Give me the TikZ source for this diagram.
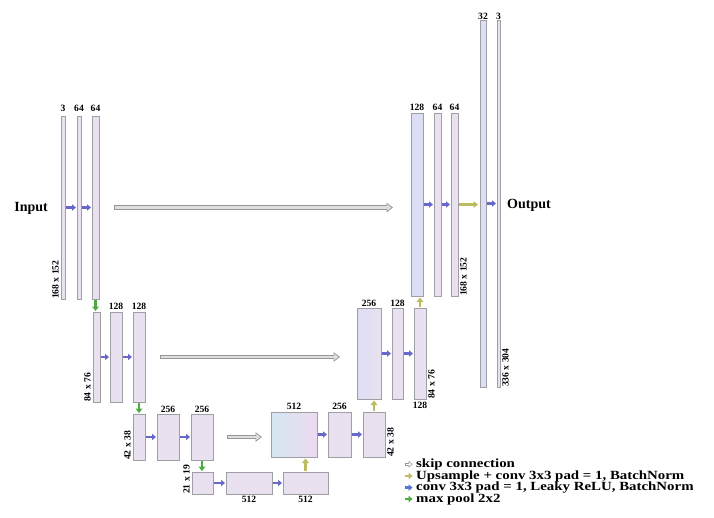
\documentclass[tikz,border=0pt]{standalone}
\usepackage{fontspec}
\setmainfont{Liberation Serif}
\newfontfamily\legfont[FakeStretch=1.19]{Liberation Serif}
\usetikzlibrary{arrows.meta}
\definecolor{convblue}{RGB}{104,104,204}
\definecolor{poolgreen}{RGB}{76,170,64}
\definecolor{upolive}{RGB}{190,186,96}
\definecolor{skipfill}{RGB}{222,222,222}
\definecolor{skipedge}{RGB}{150,150,150}
\definecolor{barfill}{RGB}{233,225,239}
\definecolor{baredge}{RGB}{158,158,163}
\definecolor{barblue}{RGB}{220,222,246}
\definecolor{barcyan}{RGB}{212,230,242}
\definecolor{barpink}{RGB}{236,218,240}
\definecolor{legblue}{RGB}{80,120,210}
\begin{document}
\begin{tikzpicture}[x=1pt,y=-1pt,
  bar/.style={draw=baredge, fill=barfill, line width=0.7pt, inner sep=0pt, outer sep=0pt, anchor=north west, rectangle},
  num/.style={font=\fontsize{9.6}{10}\selectfont\bfseries, inner sep=0pt, anchor=base},
  dimlab/.style={font=\fontsize{9.6}{10}\selectfont\bfseries, inner sep=0pt, rotate=90},
  io/.style={font=\fontsize{14}{15}\selectfont\bfseries, inner sep=0pt},
  leg/.style={font=\legfont\fontsize{12.5}{13}\selectfont\bfseries, inner sep=0pt, anchor=base west},
  conv/.style={draw=convblue, line width=2.2pt, -{Triangle[length=4pt,width=6.5pt,line width=0pt]}, shorten <=1pt, shorten >=1pt},
  pool/.style={draw=poolgreen, line width=2.4pt, -{Triangle[length=4.5pt,width=7pt,line width=0pt]}, shorten <=1pt, shorten >=1pt},
  upc/.style={draw=upolive, line width=2.4pt, -{Triangle[length=4.5pt,width=7pt,line width=0pt]}, shorten <=1.5pt, shorten >=1.5pt},
  skipo/.style={draw=skipedge, line width=4.2pt, -{Triangle[length=6.5pt,width=9.5pt,line width=0.7pt,fill=skipfill]}},
  skipi/.style={draw=skipfill, line width=2.6pt},
]
\useasboundingbox (0,0) rectangle (714,517);

% ---- encoder level 1
\node[bar, minimum width=4pt, minimum height=183pt] (A) at (61,116) {};
\node[bar, minimum width=4pt, minimum height=183pt] (B) at (77,116) {};
\node[bar, minimum width=7pt, minimum height=183pt] (C) at (92,116) {};
% ---- level 2
\node[bar, minimum width=7pt, minimum height=90pt] (D) at (93,312) {};
\node[bar, minimum width=12pt, minimum height=90pt] (E) at (110,312) {};
\node[bar, minimum width=12pt, minimum height=90pt] (F) at (133,312) {};
% ---- level 3
\node[bar, minimum width=12pt, minimum height=46pt] (G) at (133,414) {};
\node[bar, minimum width=22pt, minimum height=46pt] (H) at (157,414) {};
\node[bar, minimum width=22pt, minimum height=46pt] (I) at (191,414) {};
% ---- level 4
\node[bar, minimum width=21pt, minimum height=22pt] (J) at (192,472) {};
\node[bar, minimum width=46pt, minimum height=22pt] (K) at (226,472) {};
\node[bar, minimum width=45pt, minimum height=22pt] (L) at (283,472) {};
% ---- decoder level 3
\node[bar, left color=barcyan, right color=barpink, minimum width=46pt, minimum height=45pt] (M) at (271,412) {};
\node[bar, minimum width=23pt, minimum height=45pt] (N) at (328,412) {};
\node[bar, minimum width=22pt, minimum height=45pt] (O) at (363,412) {};
% ---- decoder level 2
\node[bar, left color=barblue, right color=barfill, minimum width=24pt, minimum height=91pt] (P) at (357,308) {};
\node[bar, minimum width=11pt, minimum height=91pt] (Q) at (392,308) {};
\node[bar, minimum width=12pt, minimum height=91pt] (R) at (414,308) {};
% ---- decoder level 1
\node[bar, fill=barblue, minimum width=12pt, minimum height=183pt] (S) at (411,113) {};
\node[bar, minimum width=7pt, minimum height=183pt] (T) at (434,113) {};
\node[bar, minimum width=7pt, minimum height=183pt] (U) at (451,113) {};
% ---- output
\node[bar, fill=barblue, minimum width=6pt, minimum height=367pt] (V) at (480,20) {};
\node[bar, minimum width=3pt, minimum height=367pt] (W) at (497,20) {};

% ---- channel labels
\node[num] (nA) at ([yshift=5pt]A.north) {3};
\node[num] (nB) at ([yshift=5pt]B.north) {64};
\node[num] (nC) at ([yshift=5pt]C.north) {64};
\node[num] (nE) at ([yshift=3pt]E.north) {128};
\node[num] (nF) at ([yshift=3pt]F.north) {128};
\node[num] (nH) at ([yshift=2pt]H.north) {256};
\node[num] (nI) at ([yshift=2pt]I.north) {256};
\node[num] (nK) at ([yshift=-8.6pt]K.south) {512};
\node[num] (nL) at ([yshift=-8.6pt]L.south) {512};
\node[num] (nM) at ([yshift=2.5pt]M.north) {512};
\node[num] (nN) at ([yshift=2.5pt]N.north) {256};
\node[num] (nP) at ([yshift=2pt]P.north) {256};
\node[num] (nQ) at ([yshift=2pt]Q.north) {128};
\node[num] (nR) at ([yshift=-9.3pt]R.south) {128};
\node[num] (nS) at ([yshift=3pt]S.north) {128};
\node[num] (nT) at ([yshift=3pt]T.north) {64};
\node[num] (nU) at ([yshift=3pt]U.north) {64};
\node[num] (nV) at ([yshift=1pt]V.north) {32};
\node[num] (nW) at ([yshift=1pt]W.north) {3};

% ---- size labels
\node[dimlab, anchor=south west] (dA) at ([xshift=-2pt]A.south west) {168 x 152};
\node[dimlab, anchor=south west] (dD) at ([xshift=-2pt]D.south west) {84 x 76};
\node[dimlab, anchor=south west] (dG) at ([xshift=-2pt]G.south west) {42 x 38};
\node[dimlab, anchor=south west] (dJ) at ([xshift=-2pt]J.south west) {21 x 19};
\node[dimlab, anchor=north west] (dO) at ([xshift=2pt]O.south east) {42 x 38};
\node[dimlab, anchor=north west] (dR) at ([xshift=2pt]R.south east) {84 x 76};
\node[dimlab, anchor=north west] (dU) at ([xshift=2pt]U.south east) {168 x 152};
\node[dimlab, anchor=north west] (dW) at ([xshift=2pt]W.south east) {336 x 304};

% ---- input / output
\node[io, anchor=base east] (in) at ([xshift=-13pt,yshift=-4pt]A.west) {Input};
\node[io, anchor=base west] (out) at ([xshift=7pt,yshift=-4.5pt]W.east) {Output};

% ---- conv arrows
\draw[conv] (A.east) -- (B.west);
\draw[conv] (B.east) -- (C.west);
\draw[conv] (D.east) -- (E.west);
\draw[conv] (E.east) -- (F.west);
\draw[conv] (G.east) -- (H.west);
\draw[conv] (H.east) -- (I.west);
\draw[conv] (J.east) -- (K.west);
\draw[conv] (K.east) -- (L.west);
\draw[conv] (M.east) -- (N.west);
\draw[conv] (N.east) -- (O.west);
\draw[conv] (P.east) -- (Q.west);
\draw[conv] (Q.east) -- (R.west);
\draw[conv] (S.east) -- (T.west);
\draw[conv] (T.east) -- (U.west);
\draw[conv] (V.east) -- (W.west);

% ---- max pool arrows
\draw[pool] (C.south) -- (C.south |- D.north);
\draw[pool] (F.south) -- (F.south |- G.north);
\draw[pool] (I.south) -- (I.south |- J.north);

% ---- upsample arrows
\draw[upc] (L.north) -- (L.north |- M.south);
\draw[upc] (O.north) -- (O.north |- P.south);
\draw[upc] (R.north) -- (R.north |- S.south);
\draw[upc, line width=2.8pt, shorten <=1pt, shorten >=2pt] (U.east) -- (U.east -| V.west);

% ---- skip connections
\draw[skipo, shorten <=15pt, shorten >=18pt] (C.east) -- (C.east -| S.west);
\draw[skipi, shorten <=15.8pt, shorten >=23.3pt] (C.east) -- (C.east -| S.west);
\draw[skipo, shorten <=15pt, shorten >=17pt] (F.east) -- (F.east -| P.west);
\draw[skipi, shorten <=15.8pt, shorten >=22.3pt] (F.east) -- (F.east -| P.west);
\draw[skipo, shorten <=14pt, shorten >=9pt] (I.east) -- (I.east -| M.west);
\draw[skipi, shorten <=14.8pt, shorten >=14.3pt] (I.east) -- (I.east -| M.west);

% ---- legend
\node[leg] (lg1) at (416,467.3) {skip connection};
\node[leg] (lg2) at (416,479.0) {Upsample + conv 3x3 pad = 1, BatchNorm};
\node[leg] (lg3) at (416,490.6) {conv 3x3 pad = 1, Leaky ReLU, BatchNorm};
\node[leg] (lg4) at (416,502.0) {max pool 2x2};
\draw[draw=skipedge, line width=2.8pt, -{Triangle[length=3.8pt,width=6.5pt,line width=0.5pt,fill=white]}]
  ([xshift=-11pt,yshift=3pt]lg1.base west) -- ([xshift=-3.5pt,yshift=3pt]lg1.base west);
\draw[draw=white, line width=1.6pt, shorten <=0.6pt, shorten >=3pt]
  ([xshift=-11pt,yshift=3pt]lg1.base west) -- ([xshift=-3.5pt,yshift=3pt]lg1.base west);
\draw[draw=upolive, line width=2.6pt, -{Triangle[length=3.8pt,width=6.5pt,line width=0pt]}]
  ([xshift=-11pt,yshift=3pt]lg2.base west) -- ([xshift=-3.5pt,yshift=3pt]lg2.base west);
\draw[draw=legblue, line width=2.6pt, -{Triangle[length=3.8pt,width=6.5pt,line width=0pt]}]
  ([xshift=-11pt,yshift=3pt]lg3.base west) -- ([xshift=-3.5pt,yshift=3pt]lg3.base west);
\draw[draw=poolgreen, line width=2.6pt, -{Triangle[length=3.8pt,width=6.5pt,line width=0pt]}]
  ([xshift=-11pt,yshift=3pt]lg4.base west) -- ([xshift=-3.5pt,yshift=3pt]lg4.base west);
\end{tikzpicture}
\end{document}
